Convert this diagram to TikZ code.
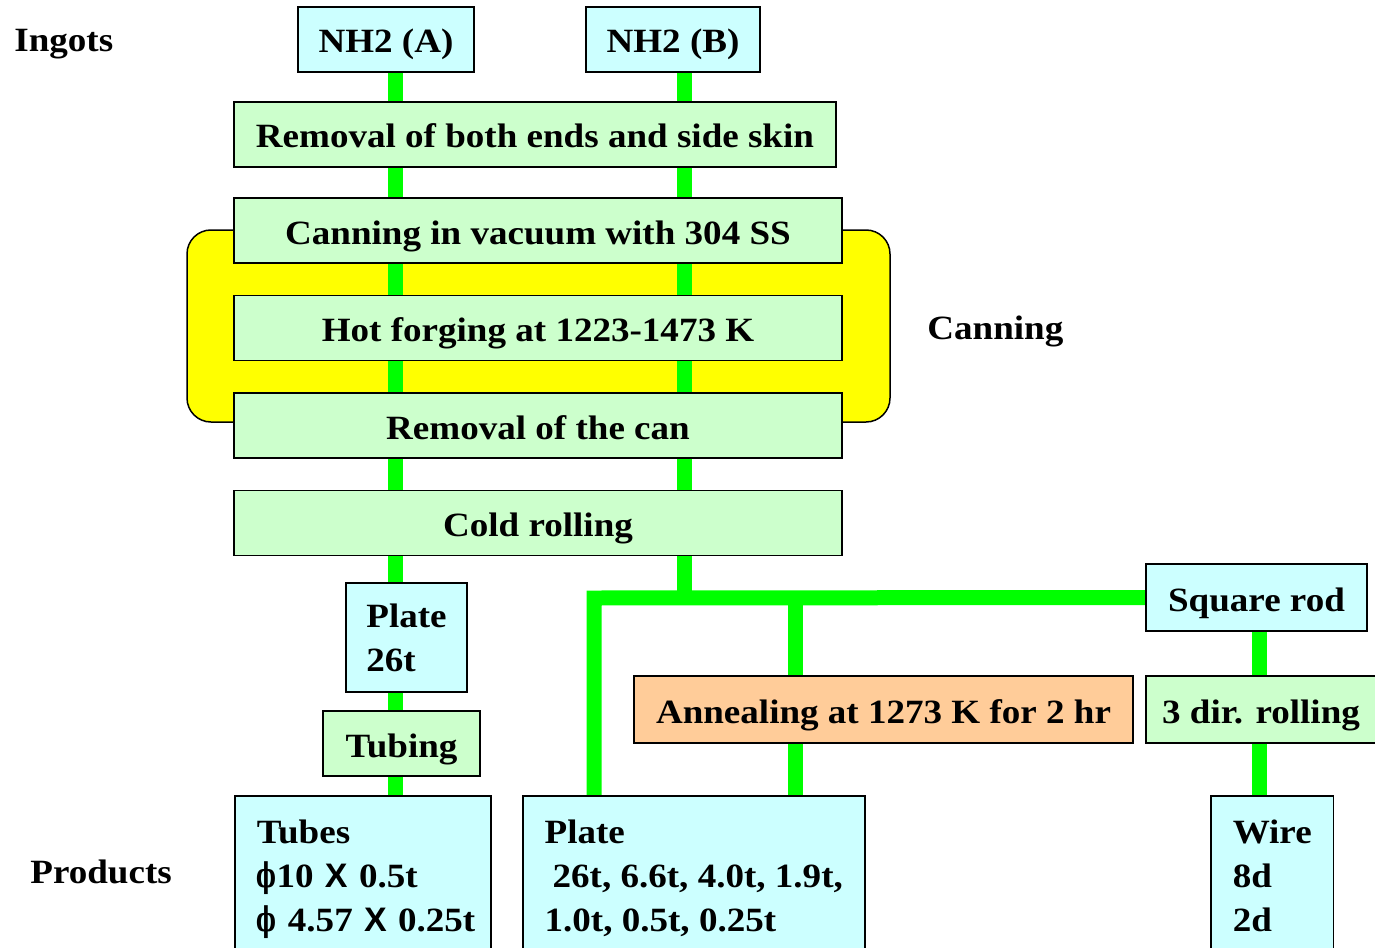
\documentclass[tikz,border=0pt]{standalone}
\usepackage{fontspec}
\setmainfont[FakeStretch=1.09]{Liberation Serif}
\newfontfamily\sansx{Liberation Sans}
\newfontfamily\greekx[FakeStretch=0.62]{DejaVu Serif}
\usetikzlibrary{%
	positioning,%
	backgrounds,%
}
\definecolor{cflow}{RGB}{0, 255, 0}
\definecolor{ccyanlight}{RGB}{204, 255, 255}
\definecolor{cgreenlight}{RGB}{204, 255, 204}
\definecolor{corangelight}{RGB}{255, 204, 153}
\definecolor{cyellow}{RGB}{255, 255, 0}
\pgfdeclarelayer{canlayer}
\pgfsetlayers{canlayer,background,main}
\tikzset{
	nodes={align=center},%
	box/.style={%
			draw,%
			rectangle,%
			line width=0.75pt,%
			inner sep=0,%
			minimum height=32.5pt},%
	oneline/.style={text height=15pt, text depth=1.5pt},%
	ingotnode/.style={box, oneline, fill=ccyanlight},%
	procnode/.style={box, oneline, fill=cgreenlight},%
	annealnode/.style={box, oneline, fill=corangelight},%
	productnode/.style={%
			box,%
			fill=ccyanlight,%
			anchor=north west,%
			align=left,%
			inner xsep=11pt,%
			inner ysep=12pt,%
			text depth=70pt},%
	tagnode/.style={anchor=west, inner sep=0},%
	flow/.style={draw=cflow, line width=7.5pt},%
}
\newcommand{\dia}{{\greekx ϕ}}

\begin{document}
\begin{tikzpicture}[x=0.5pt, y=-0.5pt, node distance=15.5pt,
		nodes={font={\bfseries\fontsize{17}{22}\selectfont}}]%
	\useasboundingbox (0,0) rectangle (1375,947);

	\node[tagnode] (ingots) at (14,44) {Ingots};
	\node[tagnode] (canning) at (927,331) {Canning};
	\node[tagnode] (products) at (30,872) {Products};

	\node[ingotnode, minimum width=88pt] (nha) at (386,39.5) {NH2 (A)};
	\node[ingotnode, minimum width=87pt] (nhb) at (673,39.5) {NH2 (B)};

	\node[procnode, minimum width=301pt] (rmends) at (535,134.5) {Removal of both ends and side skin};
	\node[procnode, minimum width=304pt] (canin) at (538,230.5) {Canning in vacuum with 304 SS};
	\node[procnode, minimum width=304pt] (forge) [below=of canin] {Hot forging at 1223-1473 K};
	\node[procnode, minimum width=304pt] (rmcan) [below=of forge] {Removal of the can};
	\node[procnode, minimum width=304pt] (cold) [below=of rmcan] {Cold rolling};

	\node[box, fill=ccyanlight, align=left, minimum width=60.5pt, minimum height=54.5pt] (plate26) at (406.5,637.5) {Plate\\26t};
	\node[procnode, minimum width=78.5pt] (tubing) at (401.5,743.5) {Tubing};

	\node[ingotnode, minimum width=110.5pt, minimum height=33.5pt] (square) at (1256.5,597.5) {Square rod};
	\node[annealnode, minimum width=249.5pt, minimum height=33.5pt] (anneal) at (883.5,709.5) {Annealing at 1273 K for 2 hr};
	\node[procnode, minimum width=115pt, minimum height=33.5pt] (threedir) at (1261,709.5) {3 dir. rolling};

	\node[productnode, text width=106pt] (tubes) at (234,795) {Tubes\\\dia10~{\sansx X}~0.5t\\\dia~4.57~{\sansx X}~0.25t};
	\node[productnode, minimum width=171pt, inner xsep=10.5pt] (plate) at (522,795) {Plate\\\hspace*{4pt}26t, 6.6t, 4.0t, 1.9t,\\1.0t, 0.5t, 0.25t};
	\node[productnode, minimum width=61pt] (wire) at (1210,795) {Wire\\8d\\2d};

	\coordinate (xa) at (395,0);
	\coordinate (xb) at (684,0);
	\coordinate (xp) at (594,0);
	\coordinate (xn) at (795,0);
	\coordinate (xw) at (1259,0);
	\coordinate (bus) at (0,598);

	\begin{pgfonlayer}{canlayer}
		\node[draw, line width=0.75pt, fill=cyellow, rounded corners=12pt,
			minimum width=351.5pt, minimum height=96pt] (can) at (538.5,326) {};
	\end{pgfonlayer}

	\begin{scope}[on background layer]
		\draw[flow] (nha.south -| xa) -- (tubes.north -| xa);
		\draw[flow] (nhb.south -| xb) -- (xb |- bus);
		\draw[flow] (plate.north -| xp) -- (xp |- bus) -- (square.west);
		\draw[flow] (xn |- bus) -- (plate.north -| xn);
		\draw[flow] (square.south -| xw) -- (wire.north -| xw);
	\end{scope}
\end{tikzpicture}
\end{document}
